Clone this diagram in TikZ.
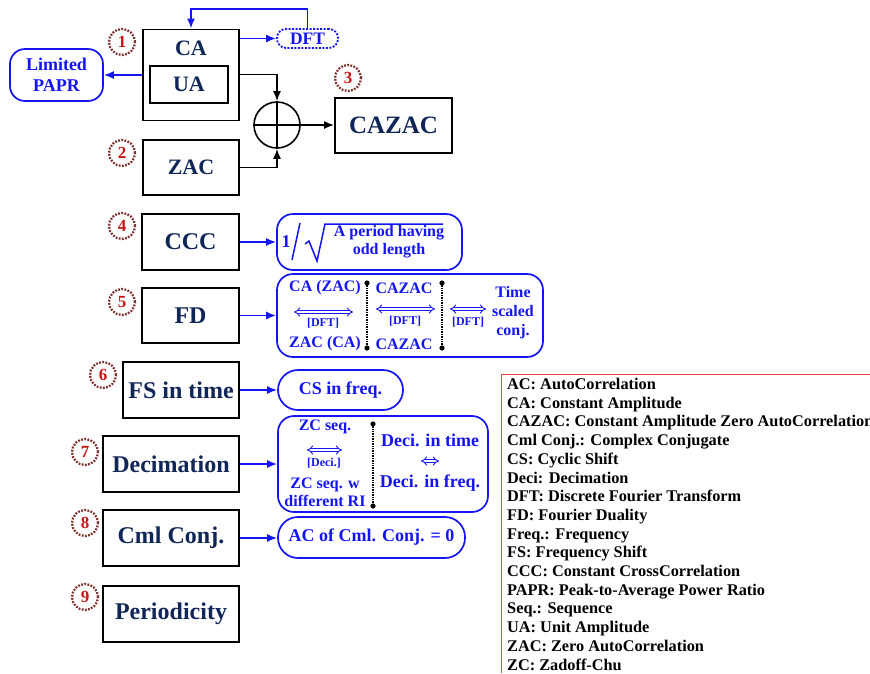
\documentclass[tikz,border=0pt]{standalone}
\usepackage{fontspec}
\setmainfont{Liberation Serif}
\usetikzlibrary{arrows.meta,calc}
\definecolor{navy}{RGB}{16,38,86}
\definecolor{myblue}{RGB}{20,20,245}
\definecolor{numred}{RGB}{200,20,20}
\definecolor{dotbrown}{RGB}{125,50,45}
\definecolor{legred}{RGB}{230,70,70}
\newcommand\fsz[2]{\fontsize{#1}{#2}\selectfont}
\begin{document}
\begin{tikzpicture}[x=1pt,y=-1pt,
  box/.style={draw=black, line width=1.8pt, text=navy, font=\bfseries\fsz{24}{28}, inner sep=0},
  rbox/.style={draw=myblue, line width=1.7pt, rounded corners=#1, text=myblue, inner sep=0},
  rbox/.default=15pt,
  numc/.style={circle, draw=dotbrown, line width=2.3pt, dash pattern=on 1.8pt off 1.4pt, text=numred, font=\bfseries\fsz{17}{17}, minimum size=26pt, inner sep=0},
  arr/.style={draw=myblue, line width=1.7pt, -{Latex[length=10pt,width=8pt]}},
  karr/.style={draw=black, line width=1.6pt, -{Latex[length=10pt,width=8pt]}},
  btxt/.style={text=myblue, font=\bfseries\fsz{16}{19}, inner sep=0, align=center},
  stxt/.style={text=myblue, font=\bfseries\fsz{12}{14}, inner sep=0},
  dbl/.style={draw=myblue, double, double distance=2.2pt, line width=0.9pt, {Implies}-{Implies}},
  vdot/.style={draw=black, line width=2pt, dash pattern=on 1pt off 0.7pt},
  legtxt/.style={text=black, font=\bfseries\fsz{16.3}{18.7}, inner sep=0, anchor=base west}
]
\clip (0,0) rectangle (870,673);

% ---- top group ----
\node[box, minimum width=96pt, minimum height=91pt] (ca) at (191,75) {};
\node[text=navy, font=\bfseries\fsz{22}{24}, inner sep=0] (catext) at (191,48) {CA};
\node[box, font=\bfseries\fsz{22}{24}, minimum width=78pt, minimum height=37pt] (ua) at (189,84.5) {UA};
\node[draw=myblue, line width=1.8pt, dash pattern=on 2pt off 1.5pt, rounded corners=9pt, text=myblue,
      font=\bfseries\fsz{17.5}{19}, minimum width=61pt, minimum height=19pt, inner sep=0] (dft) at (307.5,38.5) {DFT};
\node[rbox=15pt, font=\bfseries\fsz{18}{21}, align=center, minimum width=93pt, minimum height=52pt] (papr) at (56.5,75) {Limited\\PAPR};
\node[circle, draw=black, line width=1.6pt, minimum size=46pt, inner sep=0] (sum) at (277,125) {};
\draw[line width=1.6pt] (sum.north) -- (sum.south) (sum.west) -- (sum.east);
\node[box, font=\bfseries\fsz{22}{24}, minimum width=96pt, minimum height=55pt] (zac) at (191,167.5) {ZAC};
\node[box, font=\bfseries\fsz{25}{28}, minimum width=117pt, minimum height=55pt] (cazac) at (393.5,125.5) {CAZAC};
\node[numc] (n1) at (122,42) {1};
\node[numc] (n2) at (122,153) {2};
\node[numc] (n3) at (348,78) {3};

\draw[arr] (dft.north) -- ++(0,-19) -| (ca.north);
\draw[arr] (ca.east |- dft.west) -- (dft.west);
\draw[arr] (ca.west |- papr.east) -- (papr.east);
\draw[karr] ($(ca.north east)+(0,46)$) -| (sum.north);
\draw[karr] (zac.east) -| (sum.south);
\draw[karr] (sum.east) -- (cazac.west |- sum.east);

% ---- CCC ----
\node[box, minimum width=97pt, minimum height=56pt] (ccc) at (190.5,242) {CCC};
\node[numc] (n4) at (122,226) {4};
\node[rbox=16pt, minimum width=185pt, minimum height=56pt] (cccr) at (369.5,242) {};
\draw[arr] (ccc.east) -- (cccr.west);
\node[btxt, font=\bfseries\fsz{18}{20}] (one) at (286,242) {1};
\draw[myblue, line width=1.5pt] (292,260) -- (300,223);
\draw[myblue, line width=1.5pt, line join=miter] (305,244) -- (309,241) -- (317,261) -- (325,224) -- (443,224);
\node[btxt, font=\bfseries\fsz{16}{18}] (odd) at (389,242) {A period having\\odd length};

% ---- FD ----
\node[box, minimum width=97pt, minimum height=55pt] (fd) at (190.5,315.5) {FD};
\node[numc] (n5) at (122,302) {5};
\node[rbox=16pt, minimum width=266pt, minimum height=83pt] (fdr) at (410,315.5) {};
\draw[arr] (fd.east) -- (fdr.west);
\node[btxt] (f1) at (325,288) {CA (ZAC)};
\node[btxt] (f2) at (325,344) {ZAC (CA)};
\node[btxt] (f3) at (404,288) {CAZAC};
\node[btxt] (f4) at (404,344) {CAZAC};
\node[btxt] (f5) at (513,313) {Time\\scaled\\conj.};
\draw[dbl] (294,312) -- (353,312);
\node[stxt] (d1) at (323,323) {[DFT]};
\draw[dbl] (376,309) -- (435,309);
\node[stxt] (d2) at (405,321) {[DFT]};
\draw[dbl] (450,309) -- (486,309);
\node[stxt] (d3) at (468,322) {[DFT]};
\draw[vdot] (367,283) -- (367,348);
\fill (367,283) circle (2.6pt) (367,348) circle (2.6pt);
\draw[vdot] (442,283) -- (442,348);
\fill (442,283) circle (2.6pt) (442,348) circle (2.6pt);

% ---- FS ----
\node[box, minimum width=116pt, minimum height=56pt] (fs) at (181,390) {FS in time};
\node[numc] (n6) at (103,375) {6};
\node[rbox=20pt, font=\bfseries\fsz{18}{20}, minimum width=125pt, minimum height=40pt] (csr) at (340.5,390) {CS in freq.};
\draw[arr] (fs.east) -- (csr.west);

% ---- Decimation ----
\node[box, minimum width=136pt, minimum height=56pt] (deci) at (171,464) {Decimation};
\node[numc] (n7) at (85,452) {7};
\node[rbox=16pt, minimum width=210pt, minimum height=96pt] (decir) at (383,464) {};
\draw[arr] (deci.east) -- (decir.west);
\node[btxt] (z1) at (325,427) {ZC seq.};
\draw[dbl] (307,450) -- (342,450);
\node[stxt] (dd) at (324,463) {[Deci.]};
\node[btxt, font=\bfseries\fsz{16}{18}] (z2) at (325,492) {ZC seq. w\\different RI};
\draw[vdot] (373,424) -- (373,506);
\fill (373,424) circle (2.6pt) (373,506) circle (2.6pt);
\node[btxt, font=\bfseries\fsz{18}{20}] (t1) at (430,440) {Deci. in time};
\draw[dbl] (421,461) -- (439,461);
\node[btxt, font=\bfseries\fsz{18}{20}] (t3) at (430,483) {Deci. in freq.};

% ---- Cml Conj ----
\node[box, minimum width=136pt, minimum height=56pt] (cml) at (171,538) {Cml Conj.};
\node[numc] (n8) at (85,523) {8};
\node[rbox=20pt, font=\bfseries\fsz{18}{20}, minimum width=187pt, minimum height=41pt] (cmlr) at (371.5,537.5) {AC of Cml. Conj. = 0};
\draw[arr] (cml.east) -- (cml.east -| cmlr.west);

% ---- Periodicity ----
\node[box, minimum width=136pt, minimum height=56pt] (per) at (171,614) {Periodicity};
\node[numc] (n9) at (85,597) {9};

% ---- Legend ----
\draw[legred, line width=1pt] (501,673) -- (501,374) -- (875,374);
\foreach \t [count=\i from 0] in {AC: AutoCorrelation, CA: Constant Amplitude,
  CAZAC: Constant Amplitude Zero AutoCorrelation, Cml Conj.: Complex Conjugate,
  CS: Cyclic Shift, Deci: Decimation, DFT: Discrete Fourier Transform,
  FD: Fourier Duality, Freq.: Frequency, FS: Frequency Shift,
  CCC: Constant CrossCorrelation, PAPR: Peak-to-Average Power Ratio,
  Seq.: Sequence, UA: Unit Amplitude, ZAC: Zero AutoCorrelation, ZC: Zadoff-Chu}
  \node[legtxt] (leg\i) at (507,{389.5+18.7*\i}) {\t};
\end{tikzpicture}
\end{document}
